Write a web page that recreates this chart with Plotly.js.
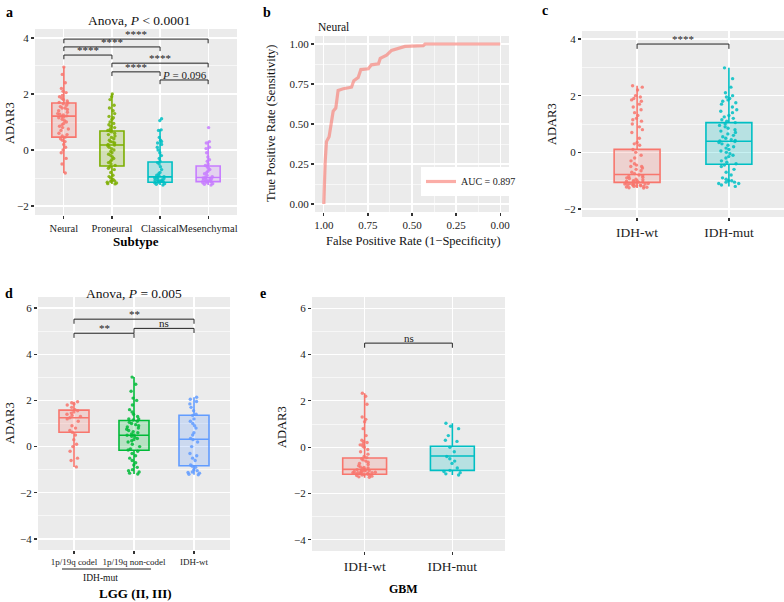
<!DOCTYPE html>
<html>
<head>
<meta charset="utf-8">
<script src="https://cdn.plot.ly/plotly-3.0.1.min.js"></script>
<style>html,body{margin:0;padding:0;background:#fff;}#chart{width:784px;height:602px;}</style>
</head>
<body>
<div id="chart"></div>
<script>
// ---------------- DATA ----------------
// Panel a: subtype
const aCats = ['Neural', 'Proneural', 'Classical', 'Mesenchymal'];
const aLow  = [-0.82, -1.21, -1.25, -1.25];
const aQ1   = [0.46, -0.57, -1.15, -1.13];
const aMed  = [1.21, 0.18, -0.96, -0.98];
const aQ3   = [1.68, 0.68, -0.43, -0.57];
const aHigh = [2.96, 2.0, 0.72, 0.3];
const aNeural = [2.96, 2.7, 2.4, 2.2, 2.1, 2.05, 1.95, 1.9, 1.85, 1.8, 1.75, 1.7, 1.68, 1.65, 1.6, 1.55, 1.5, 1.5, 1.45, 1.4, 1.35, 1.3, 1.28, 1.25, 1.22, 1.2, 1.18, 1.15, 1.1, 1.05, 1.0, 0.95, 0.9, 0.85, 0.8, 0.75, 0.7, 0.6, 0.55, 0.5, 0.46, 0.4, 0.35, 0.3, 0.2, 0.1, 0.0, -0.1, -0.3, -0.5, -0.82];
const aProneural = [2.0, 1.9, 1.8, 1.6, 1.5, 1.4, 1.3, 1.2, 1.15, 1.1, 1.0, 0.95, 0.9, 0.85, 0.8, 0.75, 0.7, 0.68, 0.65, 0.6, 0.55, 0.5, 0.45, 0.4, 0.35, 0.3, 0.28, 0.25, 0.2, 0.18, 0.15, 0.1, 0.05, 0.0, -0.05, -0.1, -0.15, -0.2, -0.25, -0.3, -0.35, -0.4, -0.45, -0.5, -0.55, -0.6, -0.65, -0.7, -0.8, -0.9, -0.95, -1.0, -1.05, -1.1, -1.1, -1.12, -1.15, -1.18, -1.2, -1.21];
const aClassical = [1.12, 1.05, 0.72, 0.7, 0.45, 0.35, 0.3, 0.25, 0.2, 0.1, 0.0, -0.1, -0.2, -0.3, -0.4, -0.45, -0.5, -0.6, -0.7, -0.8, -0.85, -0.9, -0.92, -0.95, -0.98, -1.0, -1.02, -1.05, -1.07, -1.08, -1.1, -1.1, -1.12, -1.13, -1.15, -1.17, -1.2, -1.22, -1.25];
const aMesenchymal = [0.8, 0.3, 0.25, 0.1, 0.05, -0.1, -0.25, -0.35, -0.4, -0.5, -0.55, -0.6, -0.65, -0.7, -0.75, -0.8, -0.85, -0.9, -0.95, -0.98, -1.0, -1.02, -1.05, -1.05, -1.08, -1.1, -1.1, -1.12, -1.13, -1.15, -1.17, -1.2, -1.22, -1.25];
const aPoints = [aNeural, aProneural, aClassical, aMesenchymal];
const aColors = ['#F8766D', '#7CAE00', '#00BFC4', '#C77CFF'];
const aComparisons = [[0, 3, 3.96, '****'], [0, 2, 3.68, '****'], [0, 1, 3.39, '****'], [1, 3, 3.10, '****'], [1, 2, 2.79, '****'], [2, 3, 2.50, '<i>P</i> = 0.096']];

// Panel b: ROC (specificity, sensitivity)
const rocSpec = [1.0, 1.0, 0.996, 0.992, 0.985, 0.97, 0.958, 0.947, 0.932, 0.919, 0.89, 0.843, 0.83, 0.805, 0.79, 0.748, 0.73, 0.69, 0.68, 0.644, 0.616, 0.578, 0.54, 0.436, 0.426, 0.0];
const rocSens = [0.0, 0.036, 0.14, 0.27, 0.39, 0.42, 0.50, 0.58, 0.60, 0.71, 0.72, 0.73, 0.77, 0.79, 0.84, 0.845, 0.87, 0.876, 0.91, 0.93, 0.96, 0.97, 0.985, 0.99, 1.0, 1.0];
const rocName = 'AUC = 0.897';

// Panel c: IDH status (all)
const cCats = ['IDH-wt', 'IDH-mut'];
const cLow  = [-1.26, -1.2];
const cQ1   = [-1.06, -0.42];
const cMed  = [-0.78, 0.39];
const cQ3   = [0.105, 1.05];
const cHigh = [2.35, 2.98];
const cWt = [2.35, 2.3, 2.2, 2.0, 1.95, 1.9, 1.85, 1.8, 1.7, 1.6, 1.5, 1.4, 1.3, 1.2, 1.15, 1.1, 1.0, 0.9, 0.8, 0.7, 0.5, 0.35, 0.3, 0.25, 0.1, 0.0, -0.1, -0.2, -0.3, -0.4, -0.45, -0.5, -0.5, -0.55, -0.6, -0.65, -0.7, -0.75, -0.8, -0.82, -0.85, -0.88, -0.9, -0.92, -0.95, -0.97, -1.0, -1.0, -1.02, -1.03, -1.05, -1.05, -1.06, -1.08, -1.08, -1.1, -1.1, -1.1, -1.12, -1.12, -1.13, -1.15, -1.15, -1.16, -1.18, -1.18, -1.2, -1.2, -1.22, -1.23, -1.25, -1.26];
const cMut = [2.98, 2.6, 2.3, 2.1, 2.0, 1.95, 1.9, 1.85, 1.8, 1.75, 1.7, 1.6, 1.5, 1.45, 1.4, 1.3, 1.25, 1.2, 1.15, 1.1, 1.05, 1.0, 0.95, 0.9, 0.85, 0.8, 0.75, 0.7, 0.65, 0.6, 0.55, 0.5, 0.45, 0.42, 0.4, 0.38, 0.35, 0.3, 0.25, 0.2, 0.15, 0.1, 0.05, 0.0, -0.05, -0.1, -0.15, -0.2, -0.3, -0.35, -0.4, -0.45, -0.5, -0.6, -0.7, -0.8, -0.9, -0.95, -1.0, -1.0, -1.05, -1.05, -1.1, -1.1, -1.15, -1.2];
const cPoints = [cWt, cMut];
const cColors = ['#F8766D', '#00BFC4'];
const cComparisons = [[0, 1, 3.82, '****']];

// Panel d: LGG (II, III)
const dCats = ['1p/19q codel', '1p/19q non-codel', 'IDH-wt'];
const dLow  = [-0.88, -1.19, -1.22];
const dQ1   = [0.62, -0.16, -0.83];
const dMed  = [1.25, 0.49, 0.32];
const dQ3   = [1.58, 1.13, 1.36];
const dHigh = [1.94, 3.01, 2.14];
const dCodel = [1.94, 1.9, 1.85, 1.8, 1.7, 1.6, 1.55, 1.5, 1.45, 1.4, 1.35, 1.3, 1.25, 1.2, 1.1, 0.9, 0.8, 0.7, 0.62, 0.5, 0.3, 0.1, 0.0, -0.2, -0.5, -0.6, -0.88];
const dNonCodel = [3.01, 2.7, 2.4, 2.1, 2.0, 1.8, 1.6, 1.5, 1.4, 1.3, 1.2, 1.2, 1.15, 1.1, 1.05, 1.0, 0.95, 0.9, 0.85, 0.8, 0.75, 0.7, 0.65, 0.6, 0.55, 0.5, 0.49, 0.45, 0.4, 0.35, 0.3, 0.25, 0.2, 0.1, 0.0, -0.1, -0.15, -0.2, -0.3, -0.4, -0.5, -0.6, -0.7, -0.8, -0.9, -1.0, -1.05, -1.1, -1.15, -1.19];
const dWt = [2.14, 2.05, 1.95, 1.85, 1.7, 1.55, 1.4, 1.35, 1.2, 1.1, 1.0, 0.9, 0.8, 0.6, 0.5, 0.35, 0.3, 0.2, 0.0, -0.3, -0.4, -0.5, -0.6, -0.8, -0.85, -0.9, -1.0, -1.05, -1.1, -1.12, -1.15, -1.2, -1.22];
const dPoints = [dCodel, dNonCodel, dWt];
const dColors = ['#F8766D', '#00BA38', '#619CFF'];
const dComparisons = [[0, 2, 5.52, '**'], [0, 1, 4.91, '**'], [1, 2, 5.12, 'ns']];

// Panel e: GBM
const eCats = ['IDH-wt', 'IDH-mut'];
const eLow  = [-1.32, -1.2];
const eQ1   = [-1.17, -1.0];
const eMed  = [-0.96, -0.38];
const eQ3   = [-0.47, 0.04];
const eHigh = [2.33, 1.03];
const eWt = [2.33, 2.2, 1.85, 1.3, 1.2, 1.1, 0.8, 0.5, 0.3, 0.25, 0.2, 0.15, 0.1, 0.05, 0.0, -0.1, -0.2, -0.3, -0.4, -0.45, -0.5, -0.55, -0.6, -0.65, -0.7, -0.75, -0.8, -0.85, -0.88, -0.9, -0.92, -0.95, -0.97, -1.0, -1.0, -1.02, -1.03, -1.05, -1.05, -1.07, -1.08, -1.1, -1.1, -1.1, -1.12, -1.13, -1.15, -1.15, -1.17, -1.18, -1.2, -1.2, -1.22, -1.25, -1.28, -1.3];
const eMut = [1.03, 0.9, 0.8, 0.5, 0.3, 0.25, 0.0, -0.2, -0.4, -0.5, -0.6, -0.7, -0.9, -1.0, -1.05, -1.1, -1.15, -1.2];
const ePoints = [eWt, eMut];
const eColors = ['#F8766D', '#00BFC4'];
const eComparisons = [[0, 1, 4.49, 'ns']];

// ---------------- BUILD ----------------
const W = 784, H = 602;
const FONT = '"Liberation Serif", "Times New Roman", serif';
const px = v => v / W;
const py = v => 1 - v / H;

function rgba(hex, a) {
  const n = parseInt(hex.slice(1), 16);
  return `rgba(${(n >> 16) & 255},${(n >> 8) & 255},${n & 255},${a})`;
}

const traces = [];
const annotations = [];

function boxPanel(ax, cats, low, q1, med, q3, high, pts, colors, comps, tip) {
  const xa = 'x' + ax, ya = 'y' + ax;
  cats.forEach((cat, i) => {
    traces.push({
      type: 'box', xaxis: xa, yaxis: ya, showlegend: false,
      x: [cat], q1: [q1[i]], median: [med[i]], q3: [q3[i]],
      lowerfence: [low[i]], upperfence: [high[i]],
      width: 0.5, whiskerwidth: 0, boxpoints: false,
      line: { color: colors[i], width: 1.6 },
      fillcolor: rgba(colors[i], 0.22),
      hoverinfo: 'skip'
    });
  });
  cats.forEach((cat, i) => {
    traces.push({
      type: 'box', xaxis: xa, yaxis: ya, showlegend: false,
      x: pts[i].map(() => cat), y: pts[i],
      width: 0.5, boxpoints: 'all', jitter: 0.55, pointpos: 0,
      line: { color: 'rgba(0,0,0,0)', width: 0 },
      fillcolor: 'rgba(0,0,0,0)',
      marker: { color: colors[i], size: 3.4, opacity: 0.85 },
      hoverinfo: 'y'
    });
  });
  comps.forEach(c => {
    const [i1, i2, yv, lab] = c;
    traces.push({
      type: 'scatter', mode: 'lines', xaxis: xa, yaxis: ya, showlegend: false,
      x: [cats[i1], cats[i1], cats[i2], cats[i2]],
      y: [yv - tip, yv, yv, yv - tip],
      line: { color: '#222', width: 1 }, hoverinfo: 'skip'
    });
    annotations.push({
      xref: xa, yref: ya, x: (i1 + i2) / 2, y: yv, text: lab,
      showarrow: false, yanchor: 'bottom', yshift: -3,
      font: { family: FONT, size: 11, color: '#222' }
    });
  });
}

boxPanel('', aCats, aLow, aQ1, aMed, aQ3, aHigh, aPoints, aColors, aComparisons, 0.15);
boxPanel('3', cCats, cLow, cQ1, cMed, cQ3, cHigh, cPoints, cColors, cComparisons, 0.17);
boxPanel('4', dCats, dLow, dQ1, dMed, dQ3, dHigh, dPoints, dColors, dComparisons, 0.2);
boxPanel('5', eCats, eLow, eQ1, eMed, eQ3, eHigh, ePoints, eColors, eComparisons, 0.2);

traces.push({
  type: 'scatter', mode: 'lines', xaxis: 'x2', yaxis: 'y2',
  x: rocSpec, y: rocSens, name: rocName, showlegend: true,
  line: { color: 'rgba(248,118,109,0.6)', width: 3.2 }
});

const baseAxis = {
  showgrid: true, gridcolor: '#FFFFFF', gridwidth: 1.2, zeroline: false,
  ticks: 'outside', ticklen: 3, tickwidth: 1.2, tickcolor: '#333',
  showline: false, fixedrange: true, tickangle: 0,
  tickfont: { family: FONT, size: 11, color: '#222' }
};
const minorY = d => ({ dtick: d, showgrid: true, gridcolor: '#FFFFFF', gridwidth: 0.6, ticks: '' });

function catAxis(dom, cats, size) {
  return Object.assign({}, baseAxis, {
    domain: dom, type: 'category', categoryorder: 'array', categoryarray: cats,
    range: [-0.6, cats.length - 0.4],
    tickfont: { family: FONT, size: size, color: '#222' }
  });
}
function numAxis(dom, range, dtick, minor, xa) {
  return Object.assign({}, baseAxis, {
    domain: dom, range: range, dtick: dtick, tick0: 0, anchor: xa,
    minor: minorY(minor)
  });
}

const layout = {
  width: W, height: H,
  margin: { l: 0, r: 0, t: 0, b: 0 },
  paper_bgcolor: '#FFFFFF', plot_bgcolor: '#EBEBEB',
  boxmode: 'overlay', showlegend: true,
  font: { family: FONT, color: '#222' },
  legend: {
    x: px(421), y: py(167), xanchor: 'left', yanchor: 'top',
    bgcolor: '#FFFFFF', borderwidth: 0, itemwidth: 30,
    font: { family: FONT, size: 10, color: '#222' }
  },
  xaxis: catAxis([px(35), px(237)], aCats, 10.5),
  yaxis: numAxis([py(215), py(29)], [-2.32, 4.32], 2, 1, 'x'),
  xaxis2: Object.assign({}, baseAxis, {
    domain: [px(315), px(509)], range: [1.05, -0.05], dtick: 0.25, tick0: 0,
    tickformat: '.2f', anchor: 'y2', minor: minorY(0.125)
  }),
  yaxis2: Object.assign({}, baseAxis, {
    domain: [py(212), py(36)], range: [-0.05, 1.05], dtick: 0.25, tick0: 0,
    tickformat: '.2f', anchor: 'x2', minor: minorY(0.125)
  }),
  xaxis3: Object.assign(catAxis([px(582), px(784)], cCats, 13.5), { anchor: 'y3' }),
  yaxis3: numAxis([py(217), py(31)], [-2.28, 4.28], 2, 1, 'x3'),
  xaxis4: Object.assign(catAxis([px(38), px(230)], dCats, 9), { anchor: 'y4' }),
  yaxis4: numAxis([py(550), py(297)], [-4.48, 6.48], 2, 1, 'x4'),
  xaxis5: Object.assign(catAxis([px(312), px(505)], eCats, 13.5), { anchor: 'y5' }),
  yaxis5: numAxis([py(551), py(297)], [-4.48, 6.48], 2, 1, 'x5'),
  shapes: [
    { type: 'line', xref: 'paper', yref: 'paper', x0: px(62), x1: px(151), y0: py(569), y1: py(569), line: { color: '#222', width: 1 } }
  ],
  annotations: annotations
};

function txt(text, x, y, opts) {
  annotations.push(Object.assign({
    xref: 'paper', yref: 'paper', x: px(x), y: py(y), text: text, showarrow: false,
    xanchor: 'center', yanchor: 'middle',
    font: { family: FONT, size: 12, color: '#111' }
  }, opts || {}));
}
const big = size => ({ font: { family: FONT, size: size, color: '#000' } });

// panel letters
txt('<b>a</b>', 9, 12, big(14));
txt('<b>b</b>', 267, 12, big(14));
txt('<b>c</b>', 545, 11, big(14));
txt('<b>d</b>', 9, 293, big(14));
txt('<b>e</b>', 263, 293, big(14));
// titles
txt('Anova, <i>P</i> &lt; 0.0001', 139, 21, { font: { family: FONT, size: 13.5, color: '#111' } });
txt('Neural', 316, 27, { xanchor: 'left', font: { family: FONT, size: 11.5, color: '#111' } });
txt('Anova, <i>P</i> = 0.005', 134, 293, { font: { family: FONT, size: 13.5, color: '#111' } });
// axis titles
txt('ADAR3', 10, 123, { textangle: -90, font: { family: FONT, size: 12.5, color: '#111' } });
txt('<b>Subtype</b>', 136, 241, big(13));
txt('True Positive Rate (Sensitivity)', 271, 123, { textangle: -90, font: { family: FONT, size: 12.5, color: '#111' } });
txt('False Positive Rate (1\u2212Specificity)', 413, 241, { font: { family: FONT, size: 12.5, color: '#111' } });
txt('ADAR3', 552, 124, { textangle: -90, font: { family: FONT, size: 12.5, color: '#111' } });
txt('ADAR3', 10, 423, { textangle: -90, font: { family: FONT, size: 12.5, color: '#111' } });
txt('IDH-mut', 100, 578, { font: { family: FONT, size: 9.5, color: '#111' } });
txt('<b>LGG (II, III)</b>', 135, 593, big(13));
txt('ADAR3', 282, 427, { textangle: -90, font: { family: FONT, size: 12.5, color: '#111' } });
txt('<b>GBM</b>', 404, 589, big(12));

Plotly.newPlot('chart', traces, layout, { staticPlot: true, displayModeBar: false });
</script>
</body>
</html>
